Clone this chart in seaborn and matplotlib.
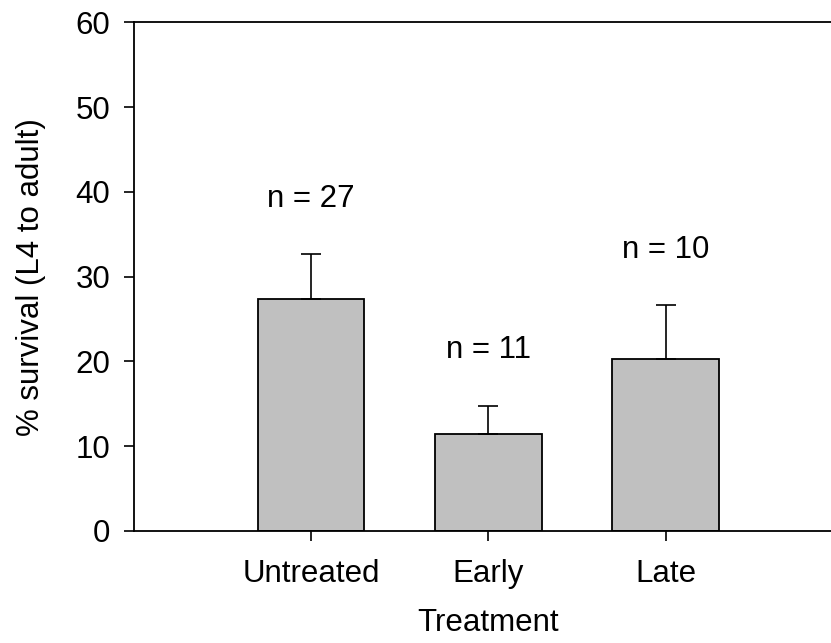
import pandas as pd
import matplotlib
matplotlib.use("Agg")
import matplotlib.pyplot as plt
import seaborn as sns

# values
treatments = ["Untreated", "Early", "Late"]
survival = [27.4, 11.4, 20.3]
sem = [5.3, 3.4, 6.4]
n_labels = ["n = 27", "n = 11", "n = 10"]

sns.set_style("ticks", {"text.color": "black", "axes.labelcolor": "black",
                        "xtick.color": "black", "ytick.color": "black",
                        "axes.edgecolor": "black"})
plt.rcParams["font.family"] = ["Liberation Sans", "DejaVu Sans"]
plt.rcParams["font.size"] = 22.5

df = pd.DataFrame({"Treatment": treatments, "survival": survival})

fig = plt.figure(figsize=(8.31, 6.43), dpi=100)
ax = fig.add_axes([0.1609, 0.1742, 0.8535, 0.7911])

sns.barplot(data=df, x="Treatment", y="survival", color="#C0C0C0",
            edgecolor="black", linewidth=1.3, width=0.6, errorbar=None,
            saturation=1, ax=ax)

# only the upper half of the error bar shows above each bar
ax.errorbar(range(len(treatments)), survival,
            yerr=[[0] * len(sem), sem], fmt="none", ecolor="black",
            elinewidth=1.2, capsize=7.5, capthick=1.2, zorder=3)

for i, (lab, v, e) in enumerate(zip(n_labels, survival, sem)):
    ax.text(i, v + e + 6.5, lab, ha="center", va="center",
            fontsize=22.5, color="black")

ax.set_xlim(-1, 3)
ax.set_ylim(0, 60)
ax.set_yticks(range(0, 61, 10))
ax.set_xlabel("Treatment", fontsize=22.5, labelpad=14)
ax.set_ylabel("% survival (L4 to adult)", fontsize=22.5, labelpad=21)
ax.tick_params(axis="both", direction="out", length=7, width=1.2,
               labelsize=22.5, color="black", labelcolor="black")
ax.tick_params(axis="y", pad=10)
ax.tick_params(axis="x", pad=13)
for side in ["left", "bottom", "top"]:
    ax.spines[side].set_linewidth(1.3)
    ax.spines[side].set_color("black")
ax.spines["right"].set_visible(False)

fig.savefig("out.png", dpi=100)
